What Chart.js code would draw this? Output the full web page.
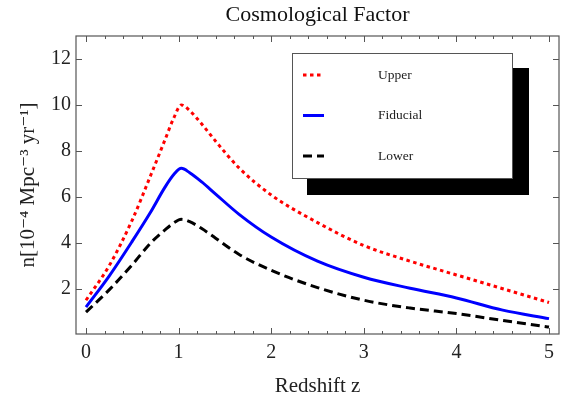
<!DOCTYPE html>
<html>
<head>
<meta charset="utf-8">
<script src="https://cdn.jsdelivr.net/npm/chart.js@4"></script>
<style>
  body { margin: 0; background: #fff; }
</style>
</head>
<body>
<canvas id="chart" width="566" height="399"></canvas>
<script>
// Values
const redshift = [0, 0.25, 0.5, 0.7, 0.85, 0.95, 1.03, 1.12, 1.25, 1.4, 1.65, 2, 2.5, 3, 3.5, 4, 4.5, 5];
const upper    = [1.5, 3.0, 5.0, 6.95, 8.45, 9.45, 10.0, 9.75, 9.17, 8.42, 7.27, 6.08, 4.88, 3.88, 3.2, 2.6, 2.0, 1.4];
const fiducial = [1.2, 2.55, 4.07, 5.35, 6.4, 6.98, 7.24, 7.05, 6.65, 6.12, 5.25, 4.25, 3.2, 2.5, 2.02, 1.6, 1.07, 0.7];
const lower    = [0.98, 1.95, 3.05, 4.0, 4.55, 4.87, 5.02, 4.92, 4.62, 4.2, 3.5, 2.8, 2.05, 1.5, 1.16, 0.92, 0.62, 0.33];

const xTicks = [0, 1, 2, 3, 4, 5];
const yTicks = [2, 4, 6, 8, 10, 12];

const serif = "'Liberation Serif', 'DejaVu Serif', serif";

function toPoints(values) {
    return redshift.map((z, i) => ({ x: z, y: values[i] }));
}

// Title centred over the plot frame rather than the whole canvas
const plotTitle = {
    id: 'plotTitle',
    afterDraw(chart) {
        const ctx = chart.ctx;
        const a = chart.chartArea;
        ctx.save();
        ctx.font = '22px ' + serif;
        ctx.fillStyle = '#111';
        ctx.textAlign = 'center';
        ctx.textBaseline = 'alphabetic';
        ctx.fillText('Cosmological Factor', (a.left + a.right) / 2, 21);
        ctx.restore();
    }
};

// Frame with inward ticks on all four sides (Mathematica style)
const frameTicks = {
    id: 'frameTicks',
    afterDraw(chart) {
        const ctx = chart.ctx;
        const a = chart.chartArea;
        const xs = chart.scales.x;
        const ys = chart.scales.y;
        ctx.save();
        ctx.strokeStyle = '#555';
        ctx.lineWidth = 1.2;
        ctx.strokeRect(a.left, a.top, a.right - a.left, a.bottom - a.top);
        ctx.lineWidth = 1;
        ctx.beginPath();
        for (let v = 0; v <= 5.001; v += 0.2) {
            const px = Math.round(xs.getPixelForValue(v)) + 0.5;
            const major = Math.abs(v - Math.round(v)) < 0.01;
            const len = major ? 6 : 3;
            ctx.moveTo(px, a.bottom); ctx.lineTo(px, a.bottom - len);
            ctx.moveTo(px, a.top); ctx.lineTo(px, a.top + len);
        }
        yTicks.forEach(v => {
            const py = Math.round(ys.getPixelForValue(v)) + 0.5;
            ctx.moveTo(a.left, py); ctx.lineTo(a.left + 6, py);
            ctx.moveTo(a.right, py); ctx.lineTo(a.right - 6, py);
        });
        ctx.stroke();
        ctx.restore();
    }
};

// Boxed legend with drop shadow
const boxLegend = {
    id: 'boxLegend',
    afterDraw(chart) {
        const ctx = chart.ctx;
        const bx = 292, by = 53, bw = 220, bh = 125;
        ctx.save();
        ctx.fillStyle = '#000';
        ctx.fillRect(307, 68, 222, 127);
        ctx.fillStyle = '#fff';
        ctx.fillRect(bx, by, bw, bh);
        ctx.strokeStyle = '#555';
        ctx.lineWidth = 1;
        ctx.strokeRect(bx + 0.5, by + 0.5, bw, bh);
        ctx.font = '13.5px ' + serif;
        ctx.textBaseline = 'middle';
        chart.data.datasets.forEach((ds, i) => {
            const y = 75 + i * 40.5;
            ctx.strokeStyle = ds.borderColor;
            ctx.lineWidth = ds.borderWidth;
            ctx.setLineDash(ds.borderDash || []);
            ctx.beginPath();
            ctx.moveTo(303, y);
            ctx.lineTo(324, y);
            ctx.stroke();
            ctx.setLineDash([]);
            ctx.fillStyle = '#222';
            ctx.fillText(ds.label, 378, y);
        });
        ctx.restore();
    }
};

const lineStyle = { borderWidth: 3, pointRadius: 0, cubicInterpolationMode: 'monotone', fill: false };

new Chart(document.getElementById('chart'), {
    type: 'line',
    data: {
        datasets: [
            Object.assign({ label: 'Upper', data: toPoints(upper), borderColor: '#ff0000', borderDash: [3.5, 3.5] }, lineStyle),
            Object.assign({ label: 'Fiducial', data: toPoints(fiducial), borderColor: '#0000ff' }, lineStyle),
            Object.assign({ label: 'Lower', data: toPoints(lower), borderColor: '#000000', borderDash: [9, 5] }, lineStyle)
        ]
    },
    options: {
        responsive: false,
        animation: false,
        layout: { padding: { left: 0, right: 7, top: 36, bottom: 0 } },
        plugins: {
            legend: { display: false },
            tooltip: { enabled: false },
            title: { display: false }
        },
        scales: {
            x: {
                type: 'linear',
                min: -0.108,
                max: 5.108,
                afterBuildTicks: s => { s.ticks = xTicks.map(v => ({ value: v })); },
                afterFit: s => { s.height = 65; },
                grid: { display: false, drawTicks: false },
                border: { display: false },
                ticks: {
                    color: '#222',
                    padding: 7,
                    font: { family: serif, size: 20 },
                    callback: v => String(v)
                },
                title: {
                    display: true,
                    text: 'Redshift z',
                    color: '#222',
                    font: { family: serif, size: 21 },
                    padding: { top: 0, bottom: 0 }
                }
            },
            y: {
                type: 'linear',
                min: 0.03,
                max: 13.0,
                afterBuildTicks: s => { s.ticks = yTicks.map(v => ({ value: v })); },
                afterFit: s => { s.width = 76; },
                grid: { display: false, drawTicks: false },
                border: { display: false },
                ticks: {
                    color: '#222',
                    padding: 5,
                    font: { family: serif, size: 20 },
                    callback: v => String(v)
                },
                title: {
                    display: true,
                    text: 'n[10\u207B\u2074 Mpc\u207B\u00B3 yr\u207B\u00B9]',
                    color: '#222',
                    font: { family: serif, size: 21 },
                    padding: { top: 16, bottom: 0 }
                }
            }
        }
    },
    plugins: [plotTitle, frameTicks, boxLegend]
});
</script>
</body>
</html>
